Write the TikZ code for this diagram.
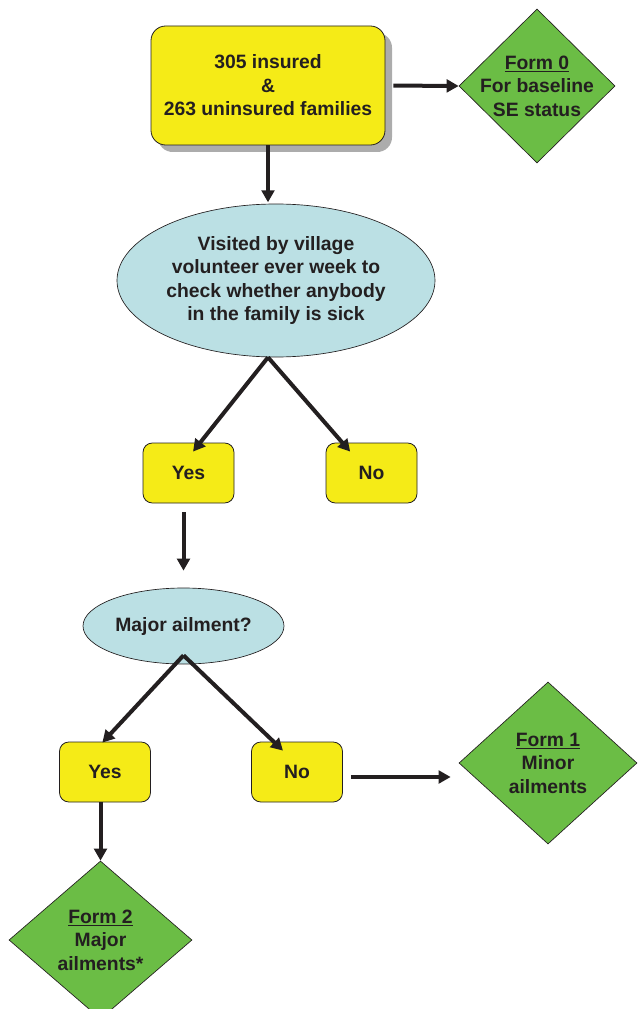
\documentclass[tikz,border=0pt]{standalone}
\usepackage{fontspec}
\setmainfont{Liberation Sans}
\usetikzlibrary{shapes.geometric,arrows.meta,shadows}

\definecolor{boxyellow}{RGB}{245,235,23}
\definecolor{formgreen}{RGB}{107,189,69}
\definecolor{ovalblue}{RGB}{187,224,228}
\definecolor{inkdark}{RGB}{35,31,32}
\definecolor{shadowgray}{RGB}{172,172,172}

\tikzset{
  every node/.style={font=\fontsize{14.5pt}{17.6pt}\selectfont\bfseries, text=inkdark, align=center},
  startbox/.style={draw=inkdark, line width=0.6pt, fill=boxyellow, rounded corners=11pt,
    minimum width=175.5pt, minimum height=89.25pt,
    drop shadow={shadow xshift=5.25pt, shadow yshift=-5.25pt, fill=shadowgray, opacity=1}},
  answer/.style={draw=inkdark, line width=0.6pt, fill=boxyellow, rounded corners=7pt,
    minimum width=68.25pt, minimum height=45pt},
  question/.style={ellipse, draw=inkdark, line width=0.5pt, fill=ovalblue, inner sep=0pt},
  formshape/.style={diamond, draw=inkdark, line width=0.5pt, fill=formgreen, inner sep=0pt},
  flow/.style={-{Triangle[length=9pt,width=9.5pt]}, line width=3pt, draw=inkdark},
}

\begin{document}
\begin{tikzpicture}[x=0.75pt,y=0.75pt,yscale=-1,xscale=1]
\useasboundingbox (0,0) rectangle (637,1009);

%Rounded Rect: families
\node [startbox] (families) at (268,85.5) {305 insured\\\&\\263 uninsured families};

%Diamond: form 0
\node [formshape, minimum width=117pt, minimum height=115.5pt] (form0) at (537,86) {};
\node (form0txt) at (form0.center) {\underline{Form 0}\\For baseline\\SE status};

%Ellipse: weekly visit
\node [question, minimum width=238.5pt, minimum height=114.75pt] (visit) at (276,280.5)
  {Visited by village\\volunteer ever week to\\check whether anybody\\in the family is sick};

%Rounded Rect: sick yes / no
\node [answer] (sickyes) at (188.5,473) {Yes};
\node [answer] (sickno) at (371.5,473) {No};

%Ellipse: major ailment
\node [question, minimum width=150.75pt, minimum height=57pt] (major) at (183.5,626) {Major ailment?};

%Rounded Rect: major yes / no
\node [answer] (majoryes) at (105,772) {Yes};
\node [answer] (majorno) at (297,772) {No};

%Diamond: form 1
\node [formshape, minimum width=133.5pt, minimum height=121.5pt] (form1) at (548,763) {};
\node (form1txt) at (form1.center) {\underline{Form 1}\\Minor\\ailments};

%Diamond: form 2
\node [formshape, minimum width=137.25pt, minimum height=118.5pt] (form2) at (100.5,940) {};
\node (form2txt) at (form2.center) {\underline{Form 2}\\Major\\ailments*};

% Arrows
\draw [flow, shorten >=1pt] (families.south) -- (families.south |- visit.north);
\draw [flow, shorten <=6pt] (families.east) -- (form0.west);
\draw [flow] ([xshift=-6pt]visit.south) -- ([xshift=3.4pt,yshift=6.75pt]sickyes.north);
\draw [flow] ([xshift=-6pt]visit.south) -- ([xshift=-16pt,yshift=6.75pt]sickno.north);
\draw [flow, shorten <=6.75pt, shorten >=12.75pt] (sickyes.south -| major.north) -- (major.north);
\draw [flow] ([yshift=-6.75pt]major.south) -- ([xshift=-2pt,yshift=0.75pt]majoryes.north);
\draw [flow] ([yshift=-6.75pt]major.south) -- ([xshift=-10.5pt,yshift=6.75pt]majorno.north);
\draw [flow, shorten <=6pt, shorten >=6pt] ([yshift=3.75pt]majorno.east) -- ([yshift=3.75pt]majorno.east -| form1.west);
\draw [flow] (majoryes.south -| form2.north) -- (form2.north);

\end{tikzpicture}
\end{document}
